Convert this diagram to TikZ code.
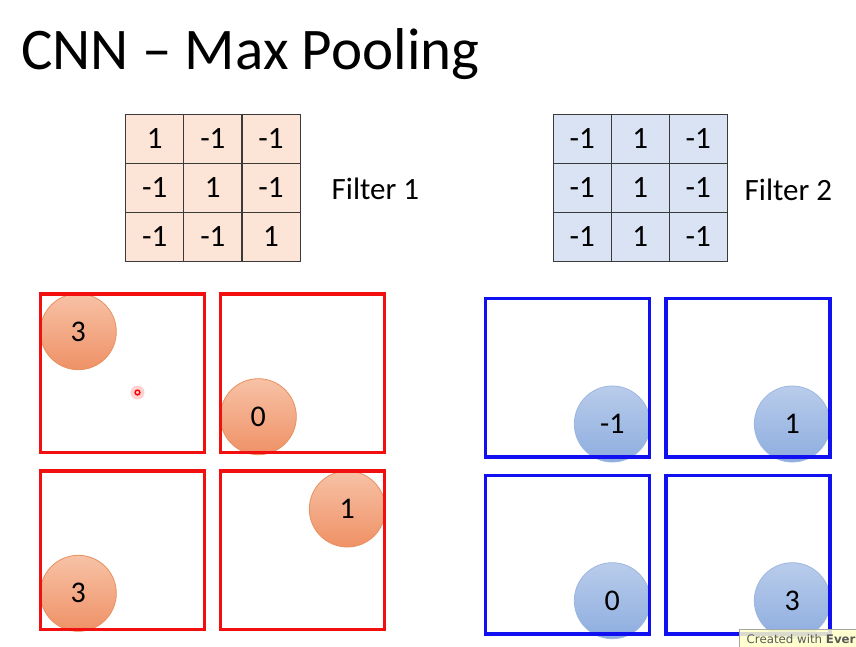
\documentclass[tikz,border=0pt]{standalone}
\usepackage{fontspec}
\setmainfont{Carlito}
\newfontfamily\wmfont{DejaVu Sans}
\definecolor{peach}{HTML}{FCE4D6}
\definecolor{lblue}{HTML}{DAE3F3}
\definecolor{gridln}{HTML}{3A3A3A}
\definecolor{boxred}{HTML}{F20F0F}
\definecolor{boxblue}{HTML}{1010F0}
\definecolor{otop}{HTML}{F7C2A6}
\definecolor{obot}{HTML}{EF9166}
\definecolor{oedge}{HTML}{E8905E}
\definecolor{btop}{HTML}{B9CCEB}
\definecolor{bbot}{HTML}{8DADDF}
\definecolor{bedge}{HTML}{9DB6E0}
\definecolor{wmfill}{HTML}{FFFFC8}
\tikzset{
  cell/.style={draw=gridln, line width=0.9pt, minimum width=58pt, minimum height=49pt,
    inner sep=0pt, font=\fontsize{31}{34}\selectfont},
  cellA/.style={cell, fill=peach},
  cellB/.style={cell, fill=lblue},
  poolbox/.style={line width=3.3pt, minimum width=164pt, minimum height=158.5pt, inner sep=0pt},
  redbox/.style={poolbox, draw=boxred},
  bluebox/.style={poolbox, draw=boxblue},
  bubble/.style={circle, minimum size=76pt, inner sep=0pt, line width=0.8pt,
    font=\fontsize{30}{33}\selectfont},
  obubble/.style={bubble, draw=oedge, top color=otop, bottom color=obot},
  bbubble/.style={bubble, draw=bedge, top color=btop, bottom color=bbot},
  lbl/.style={anchor=base west, inner sep=0pt, font=\fontsize{31}{34}\selectfont}
}
\begin{document}
\begin{tikzpicture}[x=1pt,y=-1pt]
\useasboundingbox (0,0) rectangle (856,646);
\fill[white] (0,0) rectangle (856,646);
% title
\node[anchor=base west, inner sep=0pt, font=\fontsize{59}{62}\selectfont] (title) at (21,69) {CNN -- Max Pooling};
% filter 1
\foreach \r/\row in {1/{1,-1,-1},2/{-1,1,-1},3/{-1,-1,1}}{
  \foreach \v [count=\c] in \row {
    \node[cellA] (fa-\r-\c) at ({125.7+29.05+58.1*(\c-1)},{114+24.6+49.2*(\r-1)}) {\v};
  }
}
\node[lbl] (lab1) at (331.5,199) {Filter 1};
% filter 2
\foreach \r/\row in {1/{-1,1,-1},2/{-1,1,-1},3/{-1,1,-1}}{
  \foreach \v [count=\c] in \row {
    \node[cellB] (fb-\r-\c) at ({553.3+29+58*(\c-1)},{114+24.6+49.2*(\r-1)}) {\v};
  }
}
\node[lbl] (lab2) at (744.5,200) {Filter 2};
% orange bubbles
\node[obubble] (o1) at (78.3,331.7) {3};
\node[obubble] (o2) at (258.3,416.7) {0};
\node[obubble] (o3) at (78.3,593.3) {3};
\node[obubble] (o4) at (347.3,509) {1};
% blue bubbles
\node[bbubble] (b1) at (612.3,424) {-1};
\node[bbubble] (b2) at (792.3,424) {1};
\node[bbubble] (b3) at (612.3,600.7) {0};
\node[bbubble] (b4) at (792.3,600.7) {3};
% red boxes
\node[redbox] (r1) at (122.2,373.2) {};
\node[redbox] (r2) at (302.8,373.2) {};
\node[redbox] (r3) at (122.2,550.2) {};
\node[redbox] (r4) at (302.8,550.2) {};
% blue boxes
\node[bluebox] (q1) at (567.8,377.7) {};
\node[bluebox] (q2) at (748,377.7) {};
\node[bluebox] (q3) at (567.8,554.7) {};
\node[bluebox] (q4) at (748,554.7) {};
% pointer dot
\fill[red!18] (137.5,392.5) circle (7);
\draw[red, line width=1.4pt] (137.5,392.5) circle (2.4);
% watermark
\fill[wmfill, opacity=0.85] (739,629.5) rectangle (860,650);
\draw[gray!70, line width=0.8pt] (860,629.5) -- (739,629.5) -- (739,650);
\node[anchor=base west, inner sep=0pt, text=black!65, font=\wmfont\fontsize{11.8}{13}\selectfont] (wm) at (746.5,643.5) {Created with \textbf{Ever}};
\end{tikzpicture}
\end{document}
